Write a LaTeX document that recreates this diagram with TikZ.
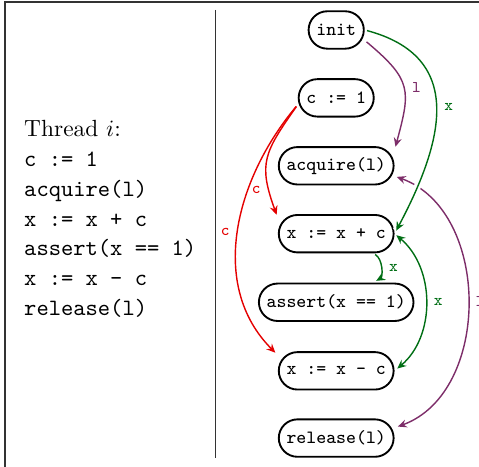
\documentclass[tikz,border=0pt]{standalone}
\usepackage{xcolor}
\usetikzlibrary{arrows,arrows.meta}
\definecolor{lockcol}{RGB}{125,45,105}
\definecolor{xcol}{RGB}{0,110,20}
\definecolor{ccol}{RGB}{228,0,0}
\tikzset{
  state/.style={rounded corners=8pt, draw=black, thick, minimum height=16pt,
    inner xsep=3.3pt, font={\footnotesize\ttfamily}}}

\begin{document}
\begin{tikzpicture}

        \tikzset{edge/.style = {->,> = {Stealth[length=3.8pt, width=3.4pt, inset=1.3pt]}, semithick, shorten >=1.5pt, shorten <=1pt}}
        \tikzset{lbl/.style = {font={\scriptsize\ttfamily}}}

        \useasboundingbox (0,0) rectangle (7.195,-7);

        % frame and separator
        \draw[black!80, line width=0.8pt] (0.075,-7.2) -- (0.075,-0.03) -- (7.4,-0.03);
        \draw[black!80] (3.23,-0.15) -- (3.23,-6.88);

        % program text
        \node[align=left, anchor=west, font={\linespread{1.06}\selectfont}] (prog) at (0.24,-3.29)
            {Thread $i$:\\ \texttt{c := 1}\\ \texttt{acquire(l)}\\ \texttt{x := x + c}\\
             \texttt{assert(x == 1)}\\ \texttt{x := x - c}\\ \texttt{release(l)}};

        % vertices
        \node[state] (init) at (5.05,-0.45) {init};
        \node[state] (c1)   at (5.05,-1.47) {c := 1};
        \node[state] (acq)  at (5.05,-2.49) {acquire(l)};
        \node[state] (xpc)  at (5.05,-3.51) {x := x + c};
        \node[state] (asrt) at (5.05,-4.54) {assert(x == 1)};
        \node[state] (xmc)  at (5.05,-5.57) {x := x - c};
        \node[state] (rel)  at (5.05,-6.58) {release(l)};

        %edges
        \draw[edge, <->, lockcol] (acq.-10) to [out=-20, in=20, looseness=1.05] node [lbl, right] {l} (rel.10);
        \draw[edge, lockcol] (init.-20) to [out=-40, in=75, looseness=1.4] node [lbl, right] {l} (acq.15);
        \draw[edge, xcol, preaction={draw=white, line width=3pt, -}] (init.east) to [out=-15, in=62, looseness=1.3] node [lbl, right] {x} (xpc.east);
        \draw[edge, ccol] (c1.190) to [out=-125, in=110, looseness=1.3] node [lbl, left, pos=0.8] {c} (xpc.165);
        \draw[edge, ccol] (c1.190) to [out=-130, in=135] node [lbl, left] {c} (xmc.165);
        \draw[edge, xcol] (xpc.-28) to [bend left=60] node [lbl, right] {x} (asrt.28);
        \draw[edge, <->, xcol] (xpc.east) to [bend left=50] node [lbl, right] {x} (xmc.east);

\end{tikzpicture}
\end{document}
